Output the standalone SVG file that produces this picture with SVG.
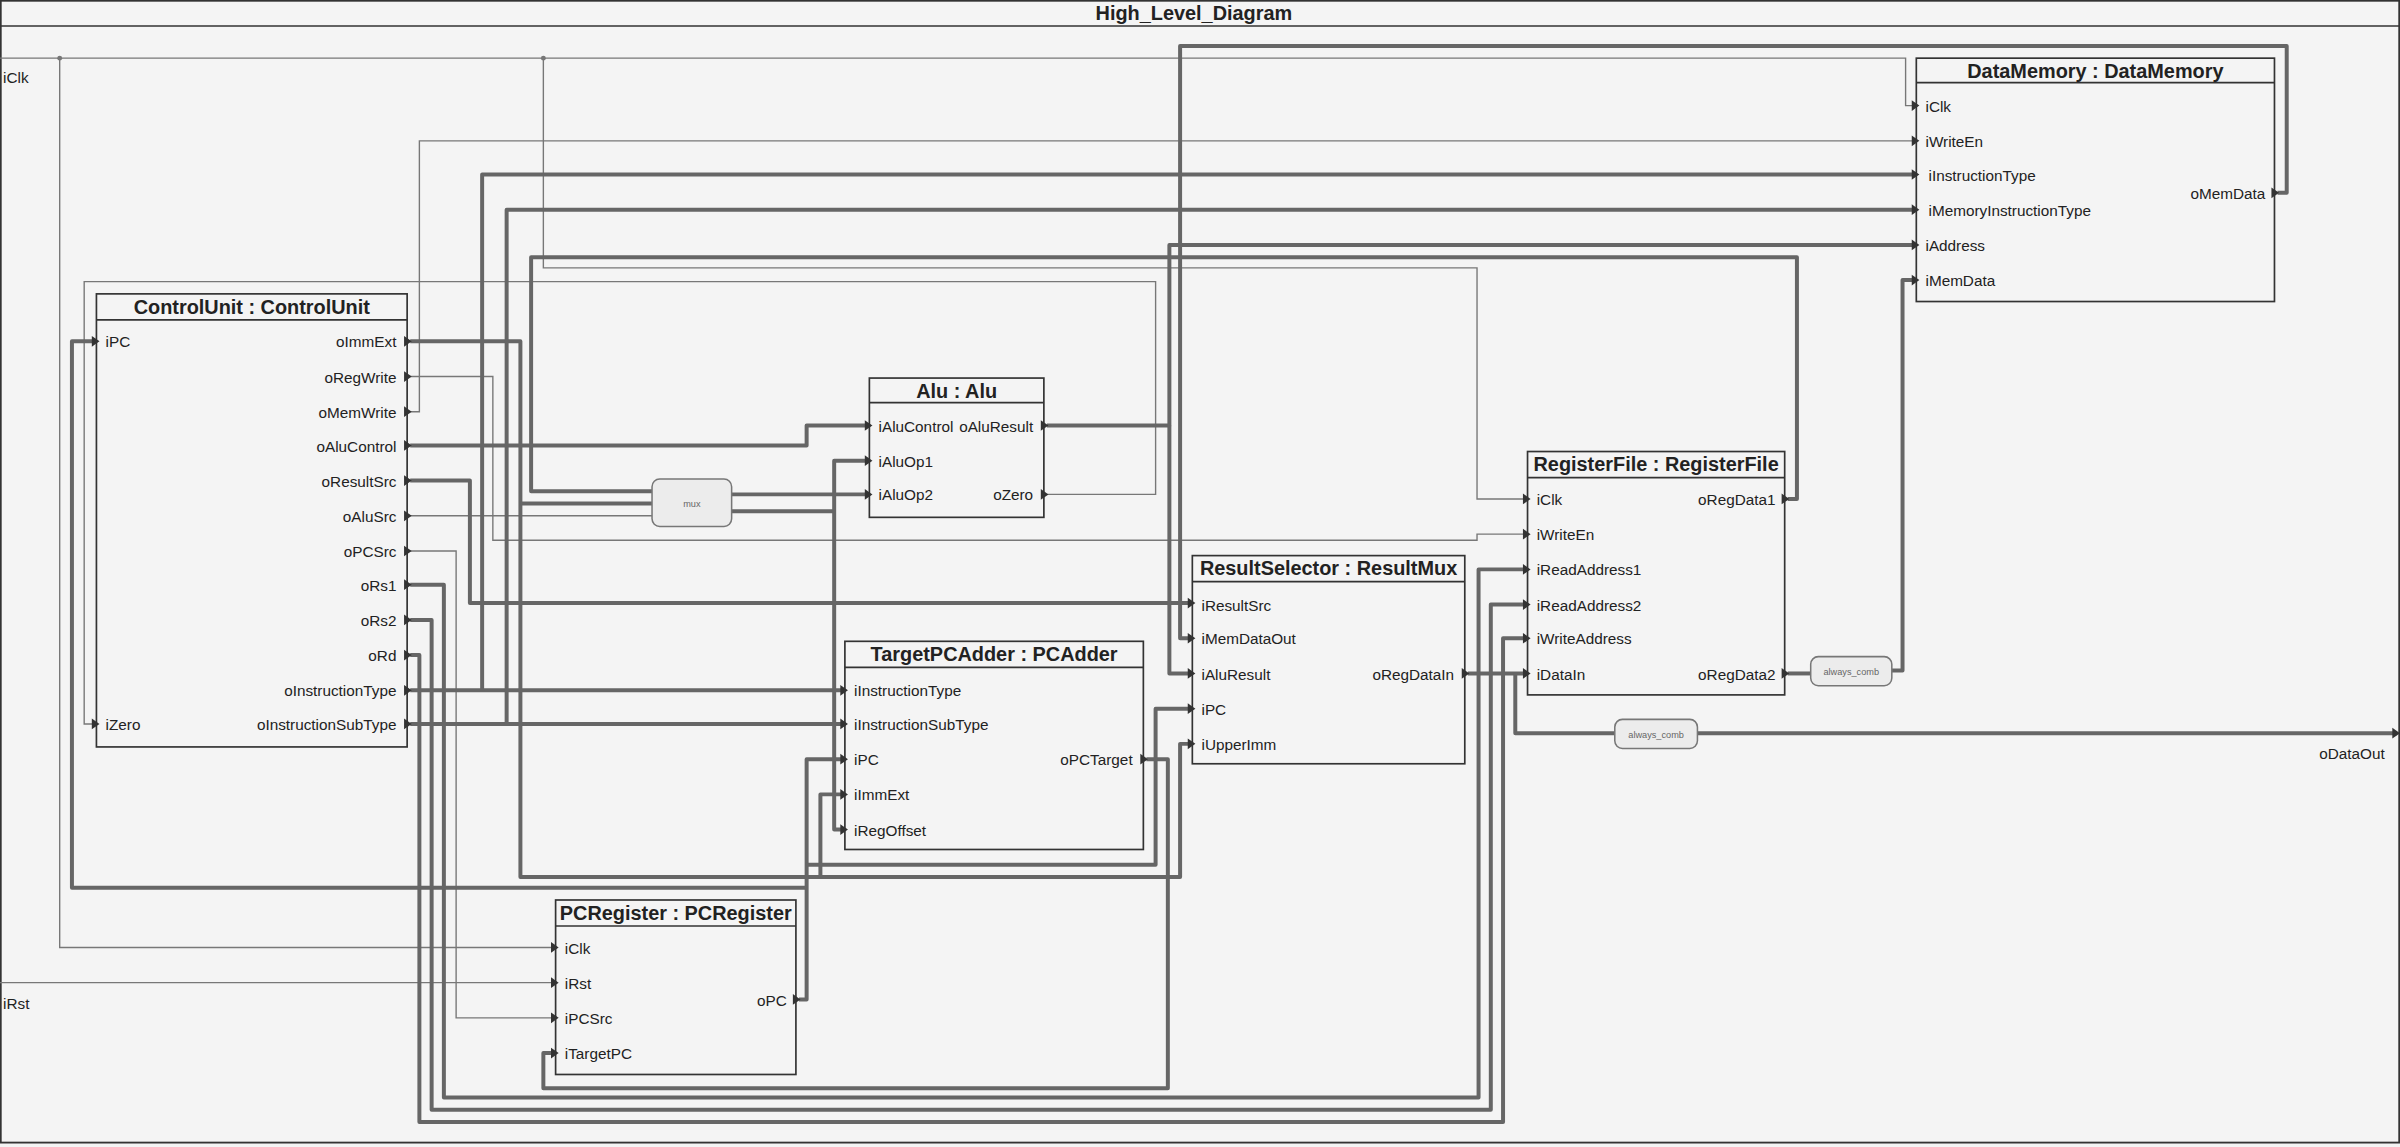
<svg xmlns="http://www.w3.org/2000/svg" width="2400" height="1147" viewBox="0 0 2400 1147">
<style>
.bg{fill:#f4f4f4}
.box{fill:#f4f4f4;stroke:#333;stroke-width:1.1}
.hdr{stroke:#333;stroke-width:1.1}
.t{font-family:"Liberation Sans",Arial,sans-serif;font-size:10px;fill:#222}
.r{text-anchor:end}
.ti{font-family:"Liberation Sans",Arial,sans-serif;font-size:13px;font-weight:bold;fill:#222;text-anchor:middle}
.w{fill:none;stroke:#666;stroke-width:2.6;stroke-linejoin:round}
.n{fill:none;stroke:#777;stroke-width:0.9}
.pm{fill:#333}
.blk{fill:#ececec;stroke:#777;stroke-width:1}
.bt{font-family:"Liberation Sans",Arial,sans-serif;font-size:6px;fill:#666;text-anchor:middle}
</style>
<defs>
<path id="tri" d="M-3,-3.5 L2,0 L-3,3.5 Z"/>
</defs>
<rect class="bg" width="2400" height="1147"/>
<g transform="scale(1.5306)">
<rect x="0.5" y="0.5" width="1567" height="746" fill="#f4f4f4" stroke="#333" stroke-width="1.2"/>
<line x1="0" y1="17" x2="1568" y2="17" class="hdr"/>
<text x="780" y="13" class="ti">High_Level_Diagram</text>
<text x="2" y="54" class="t">iClk</text>
<text x="2" y="659" class="t">iRst</text>
<text x="1558" y="496" class="t r">oDataOut</text>

<g id="connectors">
<path class="n" d="M0,38 H1245 V69 H1250"/>
<path class="n" d="M39,38 V619 H361"/>
<path class="n" d="M355,38 V175 H965 V326 H996"/>
<circle cx="39" cy="38" r="1.6" fill="#777"/>
<circle cx="355" cy="38" r="1.6" fill="#777"/>
<path class="n" d="M0,642 H361"/>
<path class="n" d="M268,246 H322 V353 H965 V349 H996"/>
<path class="n" d="M268,269 H274 V92 H1250"/>
<path class="n" d="M268,337 H426"/>
<path class="n" d="M268,360 H298 V665 H361"/>
<path class="n" d="M684,323 H755 V184 H55 V473 H61"/>
<path class="w" d="M268,223 H340 V573 H771 V486 H777"/>
<path class="w" d="M340,329 H426"/>
<path class="w" d="M536,573 V519 H550"/>
<path class="w" d="M268,291 H527 V278 H566"/>
<path class="w" d="M268,314 H307 V394 H777"/>
<path class="w" d="M268,382 H290 V717 H966 V372 H996"/>
<path class="w" d="M268,405 H282 V725 H974 V395 H996"/>
<path class="w" d="M268,428 H274 V733 H982 V417 H996"/>
<path class="w" d="M268,451 H550"/>
<path class="w" d="M315,451 V114 H1250"/>
<path class="w" d="M268,473 H550"/>
<path class="w" d="M331,473 V137 H1250"/>
<path class="w" d="M684,278 H764 V160 H1250"/>
<path class="w" d="M764,278 V440 H777"/>
<path class="w" d="M1488,126 H1494 V30 H771 V417 H777"/>
<path class="w" d="M1168,326 H1174 V168 H347 V321 H426"/>
<path class="w" d="M478,323 H566"/>
<path class="w" d="M478,334 H545"/>
<path class="w" d="M566,301 H545 V542 H550"/>
<path class="w" d="M749,496 H763 V711 H355 V688 H361"/>
<path class="w" d="M522,653 H527 V496 H550"/>
<path class="w" d="M527,565 H755 V463 H777"/>
<path class="w" d="M527,580 H47 V223 H61"/>
<path class="w" d="M959,440 H996"/>
<path class="w" d="M990,440 V479 H1055"/>
<path class="w" d="M1109,479 H1566"/>
<path class="w" d="M1168,440 H1183"/>
<path class="w" d="M1236,438 H1243 V183 H1250"/>
</g>

<g id="ControlUnit">
<rect class="box" x="63" y="192" width="203" height="296"/>
<line class="hdr" x1="63" y1="209" x2="266" y2="209"/>
<text x="164.5" y="205" class="ti">ControlUnit : ControlUnit</text>
<text x="69" y="227" class="t">iPC</text>
<text x="69" y="477" class="t">iZero</text>
<text x="259" y="227" class="t r">oImmExt</text>
<text x="259" y="250" class="t r">oRegWrite</text>
<text x="259" y="273" class="t r">oMemWrite</text>
<text x="259" y="295" class="t r">oAluControl</text>
<text x="259" y="318" class="t r">oResultSrc</text>
<text x="259" y="341" class="t r">oAluSrc</text>
<text x="259" y="364" class="t r">oPCSrc</text>
<text x="259" y="386" class="t r">oRs1</text>
<text x="259" y="409" class="t r">oRs2</text>
<text x="259" y="432" class="t r">oRd</text>
<text x="259" y="455" class="t r">oInstructionType</text>
<text x="259" y="477" class="t r">oInstructionSubType</text>
<use href="#tri" class="pm" x="63" y="223"/><use href="#tri" class="pm" x="63" y="473"/>
<use href="#tri" class="pm" x="267" y="223"/><use href="#tri" class="pm" x="267" y="246"/><use href="#tri" class="pm" x="267" y="269"/><use href="#tri" class="pm" x="267" y="291"/><use href="#tri" class="pm" x="267" y="314"/><use href="#tri" class="pm" x="267" y="337"/><use href="#tri" class="pm" x="267" y="360"/><use href="#tri" class="pm" x="267" y="382"/><use href="#tri" class="pm" x="267" y="405"/><use href="#tri" class="pm" x="267" y="428"/><use href="#tri" class="pm" x="267" y="451"/><use href="#tri" class="pm" x="267" y="473"/>
</g>

<g id="Alu">
<rect class="box" x="568" y="247" width="114" height="91"/>
<line class="hdr" x1="568" y1="263" x2="682" y2="263"/>
<text x="625" y="260" class="ti">Alu : Alu</text>
<text x="574" y="282" class="t">iAluControl</text>
<text x="574" y="305" class="t">iAluOp1</text>
<text x="574" y="327" class="t">iAluOp2</text>
<text x="675" y="282" class="t r">oAluResult</text>
<text x="675" y="327" class="t r">oZero</text>
<use href="#tri" class="pm" x="568" y="278"/><use href="#tri" class="pm" x="568" y="301"/><use href="#tri" class="pm" x="568" y="323"/>
<use href="#tri" class="pm" x="683" y="278"/><use href="#tri" class="pm" x="683" y="323"/>
</g>

<g id="mux">
<rect class="blk" x="426" y="313" width="52" height="31" rx="5"/>
<text x="452" y="331" class="bt">mux</text>
</g>

<g id="DataMemory">
<rect class="box" x="1252" y="38" width="234" height="159"/>
<line class="hdr" x1="1252" y1="54" x2="1486" y2="54"/>
<text x="1369" y="51" class="ti">DataMemory : DataMemory</text>
<text x="1258" y="73" class="t">iClk</text>
<text x="1258" y="96" class="t">iWriteEn</text>
<text x="1260" y="118" class="t">iInstructionType</text>
<text x="1260" y="141" class="t">iMemoryInstructionType</text>
<text x="1258" y="164" class="t">iAddress</text>
<text x="1258" y="187" class="t">iMemData</text>
<text x="1480" y="130" class="t r">oMemData</text>
<use href="#tri" class="pm" x="1252" y="69"/><use href="#tri" class="pm" x="1252" y="92"/><use href="#tri" class="pm" x="1252" y="114"/><use href="#tri" class="pm" x="1252" y="137"/><use href="#tri" class="pm" x="1252" y="160"/><use href="#tri" class="pm" x="1252" y="183"/>
<use href="#tri" class="pm" x="1487" y="126"/>
</g>

<g id="RegisterFile">
<rect class="box" x="998" y="295" width="168" height="159"/>
<line class="hdr" x1="998" y1="312" x2="1166" y2="312"/>
<text x="1082" y="308" class="ti">RegisterFile : RegisterFile</text>
<text x="1004" y="330" class="t">iClk</text>
<text x="1004" y="353" class="t">iWriteEn</text>
<text x="1004" y="376" class="t">iReadAddress1</text>
<text x="1004" y="399" class="t">iReadAddress2</text>
<text x="1004" y="421" class="t">iWriteAddress</text>
<text x="1004" y="444" class="t">iDataIn</text>
<text x="1160" y="330" class="t r">oRegData1</text>
<text x="1160" y="444" class="t r">oRegData2</text>
<use href="#tri" class="pm" x="998" y="326"/><use href="#tri" class="pm" x="998" y="349"/><use href="#tri" class="pm" x="998" y="372"/><use href="#tri" class="pm" x="998" y="395"/><use href="#tri" class="pm" x="998" y="417"/><use href="#tri" class="pm" x="998" y="440"/>
<use href="#tri" class="pm" x="1167" y="326"/><use href="#tri" class="pm" x="1167" y="440"/>
</g>

<g id="always_comb_1">
<rect class="blk" x="1183" y="429" width="53" height="19" rx="5"/>
<text x="1209.5" y="441" class="bt">always_comb</text>
</g>
<g id="always_comb_2">
<rect class="blk" x="1055" y="470" width="54" height="19" rx="5"/>
<text x="1082" y="482" class="bt">always_comb</text>
</g>

<g id="ResultSelector">
<rect class="box" x="779" y="363" width="178" height="136"/>
<line class="hdr" x1="779" y1="380" x2="957" y2="380"/>
<text x="868" y="376" class="ti">ResultSelector : ResultMux</text>
<text x="785" y="399" class="t">iResultSrc</text>
<text x="785" y="421" class="t">iMemDataOut</text>
<text x="785" y="444" class="t">iAluResult</text>
<text x="785" y="467" class="t">iPC</text>
<text x="785" y="490" class="t">iUpperImm</text>
<text x="950" y="444" class="t r">oRegDataIn</text>
<use href="#tri" class="pm" x="779" y="394"/><use href="#tri" class="pm" x="779" y="417"/><use href="#tri" class="pm" x="779" y="440"/><use href="#tri" class="pm" x="779" y="463"/><use href="#tri" class="pm" x="779" y="486"/>
<use href="#tri" class="pm" x="958" y="440"/>
</g>

<g id="TargetPCAdder">
<rect class="box" x="552" y="419" width="195" height="136"/>
<line class="hdr" x1="552" y1="436" x2="747" y2="436"/>
<text x="649.5" y="432" class="ti">TargetPCAdder : PCAdder</text>
<text x="558" y="455" class="t">iInstructionType</text>
<text x="558" y="477" class="t">iInstructionSubType</text>
<text x="558" y="500" class="t">iPC</text>
<text x="558" y="523" class="t">iImmExt</text>
<text x="558" y="546" class="t">iRegOffset</text>
<text x="740" y="500" class="t r">oPCTarget</text>
<use href="#tri" class="pm" x="552" y="451"/><use href="#tri" class="pm" x="552" y="473"/><use href="#tri" class="pm" x="552" y="496"/><use href="#tri" class="pm" x="552" y="519"/><use href="#tri" class="pm" x="552" y="542"/>
<use href="#tri" class="pm" x="748" y="496"/>
</g>

<g id="PCRegister">
<rect class="box" x="363" y="588" width="157" height="114"/>
<line class="hdr" x1="363" y1="605" x2="520" y2="605"/>
<text x="441.5" y="601" class="ti">PCRegister : PCRegister</text>
<text x="369" y="623" class="t">iClk</text>
<text x="369" y="646" class="t">iRst</text>
<text x="369" y="669" class="t">iPCSrc</text>
<text x="369" y="692" class="t">iTargetPC</text>
<text x="514" y="657" class="t r">oPC</text>
<use href="#tri" class="pm" x="363" y="619"/><use href="#tri" class="pm" x="363" y="642"/><use href="#tri" class="pm" x="363" y="665"/><use href="#tri" class="pm" x="363" y="688"/>
<use href="#tri" class="pm" x="521" y="653"/>
</g>
<use href="#tri" class="pm" x="1566" y="479"/>
</g>
</svg>
